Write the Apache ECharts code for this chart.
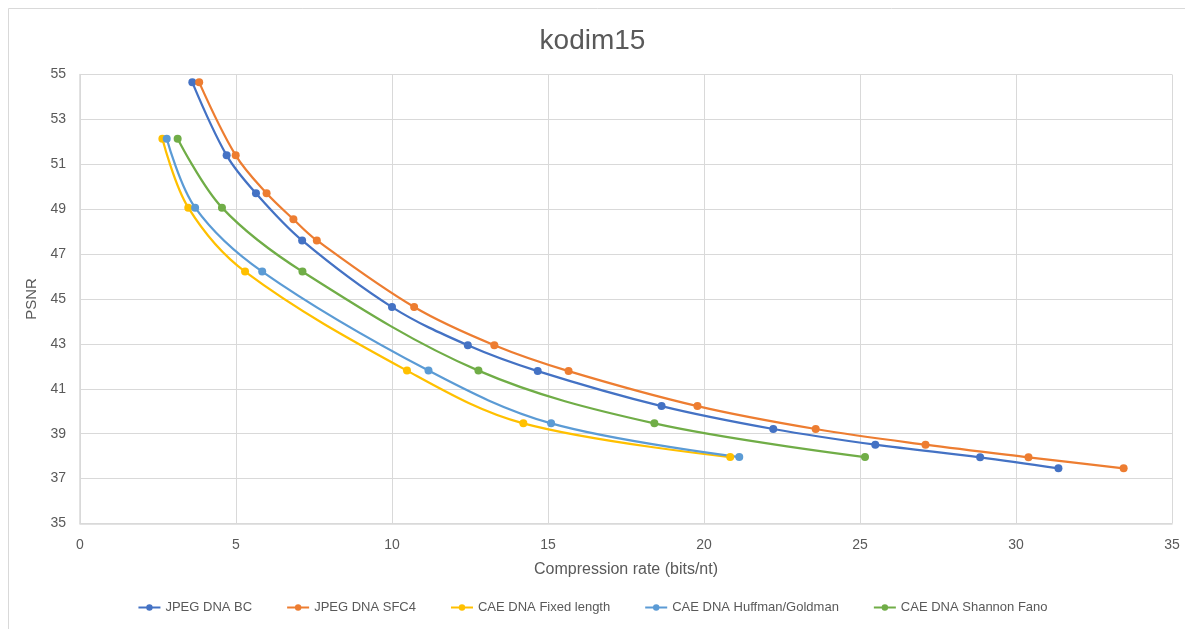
<!DOCTYPE html>
<html>
<head>
<meta charset="utf-8">
<script src="https://cdn.jsdelivr.net/npm/echarts@6/dist/echarts.min.js"></script>
<style>
html,body{margin:0;padding:0;background:#fff;}
#chart{width:1185px;height:629px;}
</style>
</head>
<body>
<div id="chart"></div>
<script>
const seriesNames = ["JPEG DNA BC", "JPEG DNA SFC4", "CAE DNA Fixed length", "CAE DNA Huffman/Goldman", "CAE DNA Shannon Fano"];
const colors = ["#4472C4", "#ED7D31", "#FFC000", "#5B9BD5", "#70AD47"];

const bcRate = [3.60, 4.70, 5.64, 7.12, 10.00, 12.43, 14.67, 18.64, 22.22, 25.49, 28.85, 31.36];
const bcPsnr = [54.65, 51.40, 49.71, 47.61, 44.64, 42.94, 41.79, 40.23, 39.21, 38.51, 37.95, 37.46];

const sfcRate = [3.82, 4.99, 5.98, 6.84, 7.59, 10.71, 13.28, 15.66, 19.79, 23.58, 27.10, 30.40, 33.45];
const sfcPsnr = [54.65, 51.40, 49.71, 48.55, 47.61, 44.64, 42.94, 41.79, 40.23, 39.21, 38.51, 37.95, 37.46];

const fixedRate = [2.64, 3.47, 5.29, 10.48, 14.21, 20.84];
const fixedPsnr = [52.14, 49.07, 46.22, 41.81, 39.46, 37.96];

const huffRate = [2.78, 3.69, 5.84, 11.17, 15.10, 21.13];
const huffPsnr = [52.14, 49.07, 46.22, 41.81, 39.46, 37.96];

const sfRate = [3.13, 4.55, 7.13, 12.77, 18.41, 25.16];
const sfPsnr = [52.14, 49.07, 46.22, 41.81, 39.46, 37.96];

const xTicks = [0, 5, 10, 15, 20, 25, 30, 35];
const yTicks = [35, 37, 39, 41, 43, 45, 47, 49, 51, 53, 55];

const allRates = [bcRate, sfcRate, fixedRate, huffRate, sfRate];
const allPsnr = [bcPsnr, sfcPsnr, fixedPsnr, huffPsnr, sfPsnr];

const font = "'Liberation Sans', 'DejaVu Sans', sans-serif";
const chart = echarts.init(document.getElementById('chart'));
chart.setOption({
  backgroundColor: '#fff',
  animation: false,
  title: {
    text: 'kodim15', left: 'center', top: 22,
    textStyle: {color: '#595959', fontSize: 28, fontWeight: 'normal', fontFamily: font}
  },
  graphic: [{
    type: 'rect', left: 6, top: 6, shape: {width: 1200, height: 700},
    style: {fill: 'none', stroke: '#d9d9d9', lineWidth: 1}, silent: true, z: -1
  }],
  legend: {
    bottom: 10, left: 'center', itemGap: 34, itemWidth: 22, itemHeight: 8,
    textStyle: {color: '#595959', fontSize: 13, fontFamily: font},
    data: seriesNames
  },
  grid: {left: 80, right: 13, top: 74.5, bottom: 105.5, containLabel: false},
  xAxis: {
    type: 'value', min: 0, max: 35, interval: 5,
    name: 'Compression rate (bits/nt)', nameLocation: 'middle', nameGap: 38,
    nameTextStyle: {color: '#595959', fontSize: 16, fontFamily: font},
    axisLine: {show: true, lineStyle: {color: '#d9d9d9', width: 1.5}},
    axisTick: {show: false},
    axisLabel: {color: '#595959', fontSize: 14, fontFamily: font, margin: 15},
    splitLine: {show: true, lineStyle: {color: '#d9d9d9'}}
  },
  yAxis: {
    type: 'value', min: 35, max: 55, interval: 2,
    name: 'PSNR', nameLocation: 'middle', nameGap: 38,
    nameTextStyle: {color: '#595959', fontSize: 15, fontFamily: font},
    axisLine: {show: true, lineStyle: {color: '#d9d9d9', width: 1.5}},
    axisTick: {show: false},
    axisLabel: {color: '#595959', fontSize: 14, fontFamily: font, margin: 14},
    splitLine: {show: true, lineStyle: {color: '#d9d9d9'}}
  },
  series: seriesNames.map((n, i) => ({
    name: n, type: 'line', smooth: 0.35,
    data: allRates[i].map((x, j) => [x, allPsnr[i][j]]),
    symbol: 'circle', symbolSize: 8,
    itemStyle: {color: colors[i]},
    lineStyle: {color: colors[i], width: 2.25}
  }))
});
</script>
</body>
</html>
